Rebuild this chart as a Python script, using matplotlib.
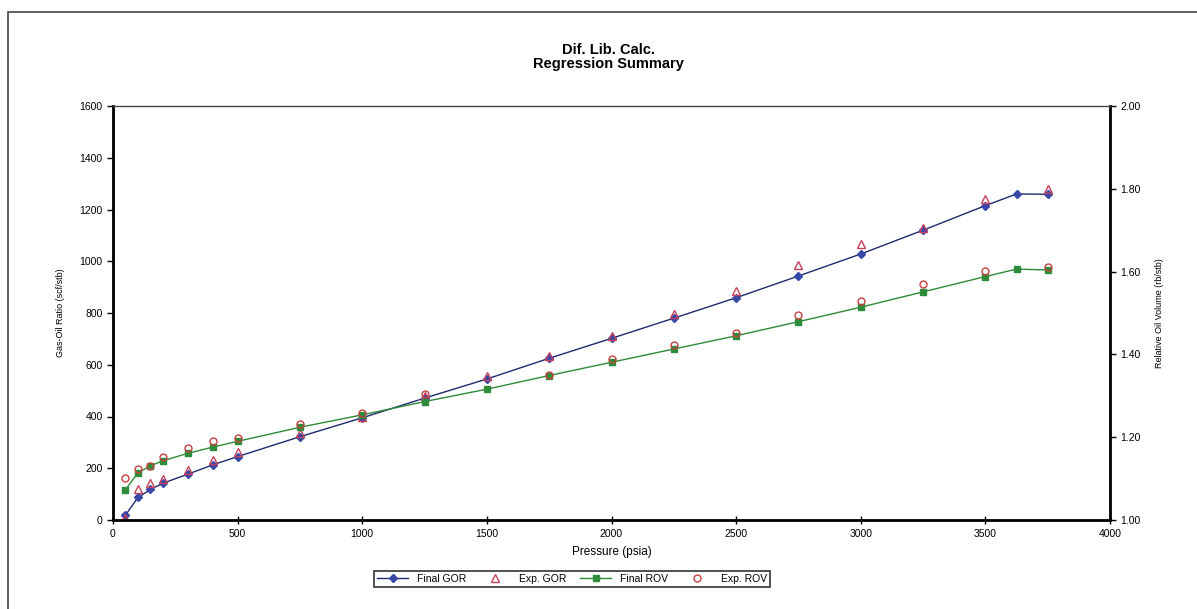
import numpy as np
import matplotlib.pyplot as plt
from matplotlib.patches import Rectangle

plt.rcParams['font.family'] = ['Liberation Sans', 'DejaVu Sans']

# pressures (psia)
p_final = [50, 100, 150, 200, 300, 400, 500, 750, 1000, 1250, 1500, 1750, 2000,
           2250, 2500, 2750, 3000, 3250, 3500, 3625, 3750]
p_exp = [50, 100, 150, 200, 300, 400, 500, 750, 1000, 1250, 1500, 1750, 2000,
         2250, 2500, 2750, 3000, 3250, 3500, 3750]

final_gor = [19, 87, 118, 142, 177, 213, 245, 322, 395, 471, 545, 625, 702,
             780, 859, 943, 1028, 1120, 1215, 1260, 1259]
exp_gor = [8, 120, 142, 160, 194, 230, 262, 335, 400, 479, 555, 635, 710,
           795, 885, 985, 1066, 1130, 1239, 1279]

final_rov = [1.073, 1.114, 1.131, 1.143, 1.161, 1.176, 1.190, 1.224, 1.254,
             1.286, 1.316, 1.349, 1.381, 1.413, 1.445, 1.479, 1.514, 1.551,
             1.588, 1.606, 1.604]
exp_rov = [1.102, 1.123, 1.131, 1.153, 1.173, 1.192, 1.198, 1.232, 1.258,
           1.305, np.nan, 1.350, 1.390, 1.422, 1.452, 1.495, 1.529, 1.569,
           1.601, 1.612]

fig = plt.figure(figsize=(11.97, 6.09), dpi=100)
fig.patches.append(Rectangle((8/1197, -0.05), 1.2, 1 - 12/609 + 0.05,
                             transform=fig.transFigure, fill=False,
                             edgecolor='#444444', lw=1.2))

ax = fig.add_axes([113/1197, 1 - 520/609, (1110 - 113)/1197, (520 - 106)/609])
ax2 = ax.twinx()

l1, = ax.plot(p_final, final_gor, color='#1F2A6E', lw=1, marker='D', ms=4,
              mfc='#3848A8', mec='#3848A8', label='Final GOR')
l2, = ax.plot(p_exp, exp_gor, ls='none', marker='^', ms=5.5, mfc='none',
              mec='#C8405A', mew=1, label='Exp. GOR')
l3, = ax2.plot(p_final, final_rov, color='#2E8B3A', lw=1, marker='s', ms=4.5,
               mfc='#2E8B3A', mec='#2E8B3A', label='Final ROV')
l4, = ax2.plot(p_exp, exp_rov, ls='none', marker='o', ms=5, mfc='none',
               mec='#C84040', mew=1, label='Exp. ROV')

ax.set_xlim(0, 4000)
ax.set_ylim(0, 1600)
ax2.set_ylim(1.0, 2.0)
ax.set_xticks(range(0, 4001, 500))
ax.set_yticks(range(0, 1601, 200))
ax2.set_yticks(np.arange(1.0, 2.01, 0.2))
ax2.set_yticklabels(['%.2f' % v for v in np.arange(1.0, 2.01, 0.2)])

for a in (ax, ax2):
    a.tick_params(labelsize=7.5, length=4, width=1)
ax.tick_params(axis='x', direction='inout', length=6)
ax.spines['left'].set_linewidth(2)
ax.spines['bottom'].set_linewidth(2)
ax2.spines['right'].set_linewidth(2)
ax2.spines['top'].set_linewidth(1)
ax2.spines['top'].set_color('#444444')
ax.spines['top'].set_visible(False)

ax.set_ylabel('Gas-Oil Ratio (scf/stb)', fontsize=6.5, labelpad=10)
ax2.set_ylabel('Relative Oil Volume (rb/stb)', fontsize=6.5, labelpad=10)
ax.set_xlabel('Pressure (psia)', fontsize=8.5, labelpad=5)

fig.text(608/1197, 1 - 57/609, 'Dif. Lib. Calc.\nRegression Summary',
         ha='center', va='center', fontsize=10.5, fontweight='bold',
         linespacing=1.05)

leg = fig.legend(handles=[l1, l2, l3, l4], loc='center',
                 bbox_to_anchor=(572/1197, 1 - 579/609), ncol=4, fontsize=7.5,
                 frameon=True, fancybox=False, edgecolor='black',
                 handlelength=3, columnspacing=1.3, borderpad=0.3)
leg.get_frame().set_linewidth(1.2)

fig.savefig('out.png', dpi=100)
